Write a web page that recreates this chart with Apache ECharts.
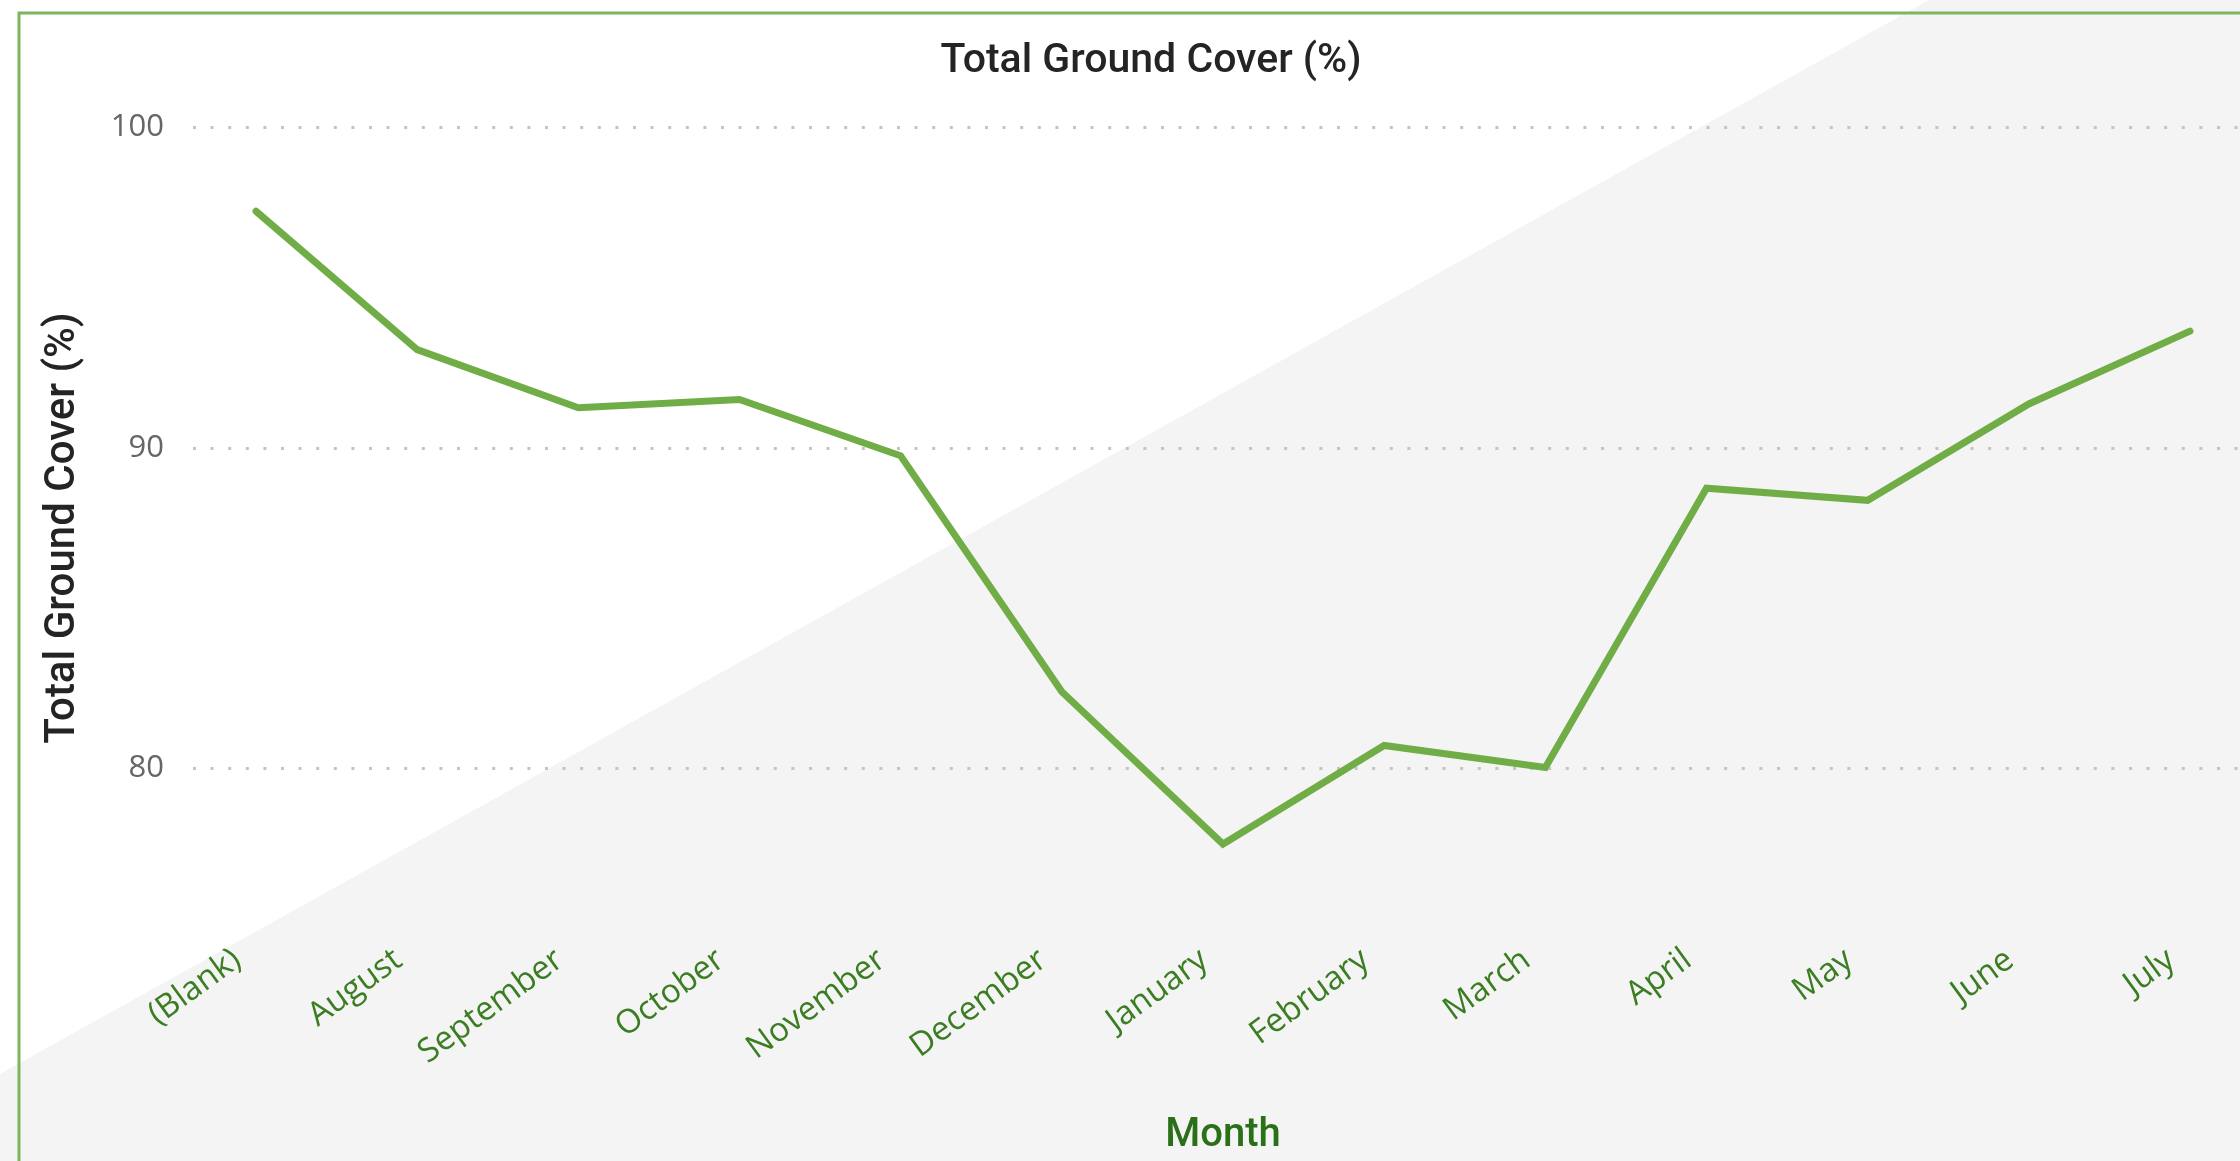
<!DOCTYPE html>
<html>
<head>
<meta charset="utf-8">
<script src="https://cdn.jsdelivr.net/npm/echarts@6/dist/echarts.min.js"></script>
<style>
  html, body { margin: 0; padding: 0; background: #fff; }
  #chart { width: 2240px; height: 1161px; }
</style>
</head>
<body>
<div id="chart"></div>
<script>
// chart data
var months = ['(Blank)', 'August', 'September', 'October', 'November', 'December',
  'January', 'February', 'March', 'April', 'May', 'June', 'July'];
var groundCover = [97.35, 93.0, 91.17, 91.43, 89.66, 82.24,
  77.45, 80.55, 79.86, 88.64, 88.26, 91.29, 93.58];
var yMin = 75;
var yMax = 100;

var myChart = echarts.init(document.getElementById('chart'));

var option = {
  backgroundColor: '#ffffff',
  animation: false,
  title: {
    text: 'Total Ground Cover (%)',
    left: 1146,
    top: 36,
    textAlign: 'center',
    textStyle: {
      fontFamily: 'Roboto',
      fontWeight: 500,
      fontSize: 41,
      color: '#252423'
    }
  },
  graphic: [
    {
      // diagonal grey backdrop
      type: 'polygon',
      z: -10,
      silent: true,
      shape: { points: [[0, 1074], [1929, 0], [2240, 0], [2240, 1161], [0, 1161]] },
      style: { fill: '#f4f4f4' }
    },
    {
      type: 'polyline',
      z: 100,
      silent: true,
      shape: { points: [[19, 1161], [19, 13], [2240, 13]] },
      style: { stroke: '#7db65e', lineWidth: 3, fill: null }
    }
  ],
  grid: [
    // plot area for the line
    { left: 256, right: 50, top: 127, height: 802, containLabel: false },
    // wider area that carries the value axis and its gridlines
    { left: 193, right: 0, top: 127, height: 802, containLabel: false }
  ],
  xAxis: [
    {
      type: 'category',
      gridIndex: 0,
      data: months,
      boundaryGap: false,
      name: 'Month',
      nameLocation: 'middle',
      nameGap: 194,
      nameTextStyle: {
        fontFamily: 'Roboto',
        fontWeight: 500,
        fontSize: 40,
        color: '#2a7018'
      },
      axisLine: { show: false },
      axisTick: { show: false },
      splitLine: { show: false },
      axisLabel: {
        interval: 0,
        rotate: 36,
        margin: 21,
        padding: [0, 23, 0, 0],
        fontFamily: 'Open Sans',
        fontSize: 33,
        color: '#3b7d22'
      }
    },
    {
      type: 'value',
      gridIndex: 1,
      show: false
    }
  ],
  yAxis: [
    {
      type: 'value',
      gridIndex: 0,
      min: yMin,
      max: yMax,
      splitNumber: 3,
      show: false,
      splitLine: { show: false }
    },
    {
      type: 'value',
      gridIndex: 1,
      min: yMin,
      max: yMax,
      splitNumber: 3,
      name: 'Total Ground Cover (%)',
      nameLocation: 'middle',
      nameGap: 109,
      nameTextStyle: {
        fontFamily: 'Roboto',
        fontWeight: 500,
        fontSize: 42,
        color: '#252423'
      },
      axisLine: { show: false },
      axisTick: { show: false },
      axisLabel: {
        showMinLabel: false,
        margin: 29,
        fontFamily: 'Open Sans',
        fontSize: 31,
        color: '#666666'
      },
      splitLine: {
        show: true,
        showMinLine: false,
        lineStyle: {
          color: '#c4c4c4',
          width: 3,
          type: [3, 14.6]
        }
      }
    }
  ],
  series: [
    {
      name: 'Total Ground Cover (%)',
      type: 'line',
      xAxisIndex: 0,
      yAxisIndex: 0,
      data: groundCover,
      symbol: 'none',
      z: 5,
      lineStyle: {
        color: '#70ad47',
        width: 7,
        cap: 'round',
        join: 'miter'
      }
    }
  ]
};

myChart.setOption(option, true);
</script>
</body>
</html>
